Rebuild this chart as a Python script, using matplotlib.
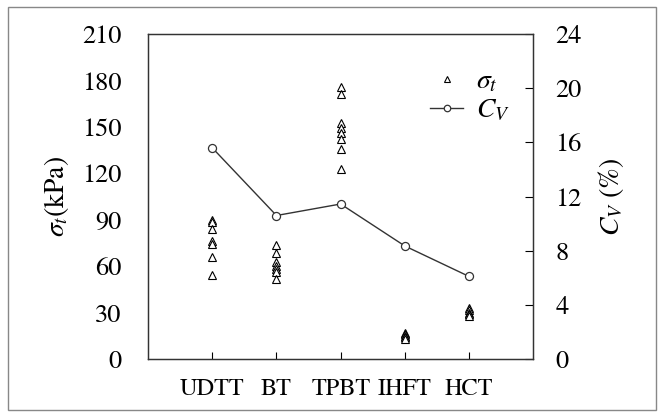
import matplotlib
matplotlib.use("Agg")
import matplotlib.pyplot as plt
from matplotlib.patches import Rectangle

plt.rcParams['font.family'] = ['STIXGeneral', 'DejaVu Serif']
plt.rcParams['mathtext.fontset'] = 'stix'

categories = ["UDTT", "BT", "TPBT", "IHFT", "HCT"]
sigma_udtt = [90, 88.5, 84, 76, 74.5, 66, 54.5]
sigma_bt = [73.5, 68.5, 63, 60, 58, 56.5, 51.5]
sigma_tpbt = [176, 171, 152.5, 149.5, 146, 142, 136, 123]
sigma_ihft = [17, 16, 15, 14, 13]
sigma_hct = [33, 31.5, 30, 29, 28]
cv_values = [15.6, 10.6, 11.45, 8.35, 6.1]

y_ticks = [0, 30, 60, 90, 120, 150, 180, 210]
y2_ticks = [0, 4, 8, 12, 16, 20, 24]

fig = plt.figure(figsize=(6.64, 4.16), dpi=100)
ax = fig.add_axes([0.223, 0.137, 0.58, 0.781])
ax2 = ax.twinx()

groups = [sigma_udtt, sigma_bt, sigma_tpbt, sigma_ihft, sigma_hct]
xs = list(range(1, len(categories) + 1))
first = True
for x, vals in zip(xs, groups):
    ax.plot([x] * len(vals), vals, linestyle='none', marker='^', markersize=5.5,
            markerfacecolor='white', markeredgecolor='black', markeredgewidth=0.8,
            label=r'$\sigma_t$' if first else None, zorder=3)
    first = False

ax2.plot(xs, cv_values, color='#333333', linewidth=1.0, marker='o', markersize=5.8,
         markerfacecolor='white', markeredgecolor='#333333', markeredgewidth=0.9,
         label=r'$C_V$')

ax.set_xlim(0, 6)
ax.set_ylim(0, 210)
ax2.set_ylim(0, 24)
ax.set_xticks(xs)
ax.set_xticklabels(categories, fontsize=17.5)
ax.set_yticks(y_ticks)
ax.set_yticklabels([str(t) for t in y_ticks], fontsize=19)
ax2.set_yticks(y2_ticks)
ax2.set_yticklabels([str(t) for t in y2_ticks], fontsize=19)

ax.tick_params(axis='x', direction='in', length=5, width=0.8, pad=14)
ax.tick_params(axis='y', direction='in', length=0, pad=19)
ax2.tick_params(axis='y', direction='in', length=6, width=0.8, pad=16)

for a in (ax, ax2):
    for s in a.spines.values():
        s.set_linewidth(0.9)
        s.set_color('#333333')

ax.set_ylabel(r'$\sigma_t$(kPa)', fontsize=20, labelpad=8)
ax2.set_ylabel(r'$C_V$ (%)', fontsize=20, labelpad=10)

h1, l1 = ax.get_legend_handles_labels()
h2, l2 = ax2.get_legend_handles_labels()
leg = ax2.legend(h1 + h2, l1 + l2, loc='upper left',
                 bbox_to_anchor=(430 / 664, 1 - 69 / 416), bbox_transform=fig.transFigure,
                 frameon=False, fontsize=20, handlelength=1.2, borderpad=0.0,
                 borderaxespad=0.0, labelspacing=0.12, handletextpad=0.45,
                 markerscale=0.8)

fig.patches.append(Rectangle((0.012, 0.014), 0.976, 0.97, transform=fig.transFigure,
                             fill=False, edgecolor='#888888', linewidth=1.0))

fig.savefig('out.png', dpi=100)
